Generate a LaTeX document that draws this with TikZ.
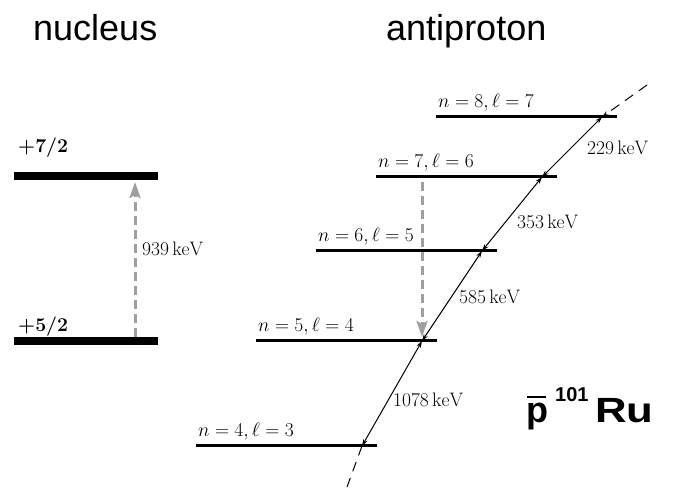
\RequirePackage{fix-cm}
\documentclass[tikz,border=0pt]{standalone}
\usepackage{amsmath}
\usepackage{fontspec}
\newfontfamily\helv{Liberation Sans}
\usetikzlibrary{arrows.meta}

\begin{document}
\begin{tikzpicture}[x=1pt, y=1pt,
    orbit/.style={line width=3pt},
    nucbar/.style={line width=8pt},
    cascade/.style={line width=1pt, >={Stealth[length=7pt, width=4.5pt]}},
    gammaline/.style={gray!75, line width=3pt, dash pattern=on 9pt off 5pt,
      -{Stealth[length=16pt, width=11pt, inset=3pt]}},
    lbl/.style={font=\fontsize{19.5}{22}\selectfont, inner sep=0pt, anchor=base west},
    head/.style={font=\helv\fontsize{36}{40}\selectfont, inner sep=0pt, anchor=base west}]
  \useasboundingbox (0,0) rectangle (678,490);

  % Headers
  \node[head] (hnuc) at (33,449) {nucleus};
  \node[head] (hanti) at (386,449) {antiproton};

  % Nucleus levels
  \draw[nucbar] (14,314) -- (158,314);
  \draw[nucbar] (14,149) -- (158,149);
  \node[lbl] (j7) at (18,337) {\textbf{+7/2}};
  \node[lbl] (j5) at (18,158) {\textbf{+5/2}};

  % Nuclear excitation
  \coordinate (nb) at (135,153);
  \coordinate (nt) at (135,308);
  \draw[gammaline] (nb) -- (nt);
  \node[lbl, anchor=west] (e939) at (142,241) {$939\,\mathrm{keV}$};

  % Antiproton levels
  \foreach \n/\l/\x/\y in {8/7/436/373, 7/6/376/313, 6/5/316/239, 5/4/256/149, 4/3/196/44} {
    \draw[orbit] (\x,\y) -- ++(181,0);
    \coordinate (c\n) at (\x+166,\y);
    \node[lbl] (n\n) at (\x+2,\y+9) {$n=\n,\ell=\l$};
  }

  % Cascade
  \coordinate (ctop) at (647,405);
  \coordinate (cbot) at (347,3);
  \draw[cascade, dash pattern=on 10pt off 7pt, ->] (ctop) -- (c8);
  \draw[cascade, <->] (c8) -- (c7);
  \draw[cascade, <->] (c7) -- (c6);
  \draw[cascade, <->] (c6) -- (c5);
  \draw[cascade, <->] (c5) -- (c4);
  \draw[cascade, dash pattern=on 10pt off 7pt] (c4) -- (cbot);
  \node[lbl, anchor=west] (e229) at (587,342) {$229\,\mathrm{keV}$};
  \node[lbl, anchor=west] (e353) at (517,268) {$353\,\mathrm{keV}$};
  \node[lbl, anchor=west] (e585) at (459,193) {$585\,\mathrm{keV}$};
  \node[lbl, anchor=west] (e1078) at (393,90) {$1078\,\mathrm{keV}$};

  % Resonant de-excitation
  \coordinate (ga) at (422,308);
  \coordinate (gb) at (422,153);
  \draw[gammaline] (ga) -- (gb);

  % System label
  \node[anchor=base west, inner sep=0pt, font=\helv\bfseries\fontsize{36}{40}\selectfont] (pb) at (526,67) {p};
  \draw[line width=2.5pt] (527,93) -- (546,93);
  \node[anchor=base west, inner sep=0pt, font=\helv\bfseries\fontsize{20}{22}\selectfont] (mass) at (555,88) {101};
  \node[anchor=base west, inner sep=0pt, xscale=1.25, font=\helv\bfseries\fontsize{35}{40}\selectfont] (ru) at (595,67) {Ru};
\end{tikzpicture}
\end{document}
